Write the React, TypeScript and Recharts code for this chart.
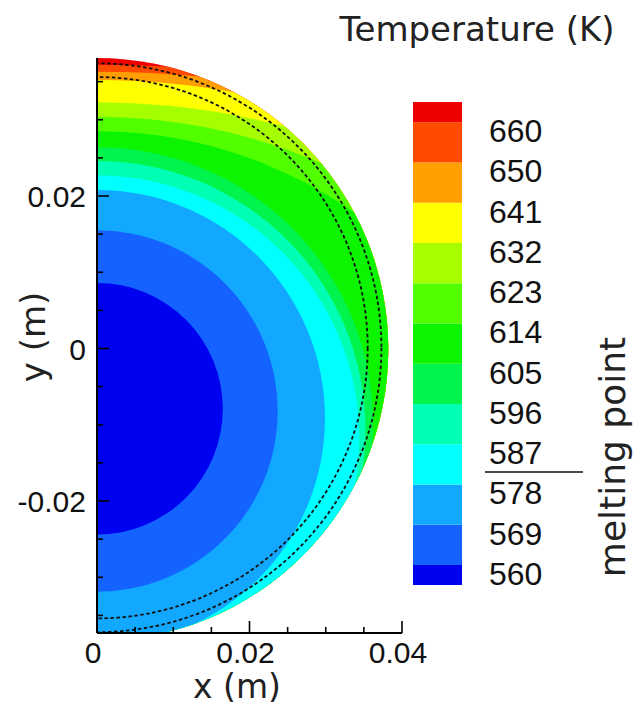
import React from 'react';
import { ComposedChart, BarChart, Bar, XAxis, YAxis, ReferenceArea } from 'recharts';

// ---- axis ticks ----
const xTicks = [0, 0.005, 0.01, 0.015, 0.02, 0.025, 0.03, 0.035, 0.04];
const xTickLabels = ['0', '', '', '', '0.02', '', '', '', '0.04'];
const yTicks = [-0.035, -0.03, -0.025, -0.02, -0.015, -0.01, -0.005, 0, 0.005, 0.01, 0.015, 0.02, 0.025, 0.03, 0.035];
const yTickLabels = ['', '', '', '-0.02', '', '', '', '0', '', '', '', '0.02', '', '', ''];
const xDomain = [0, 0.04];
const yDomain = [-0.03731, 0.0381];

// ---- contour levels (K), hot -> cold ----
const levels = [660, 650, 641, 632, 623, 614, 605, 596, 587, 578, 569, 560];
// band colours, hottest band (>660) first, coldest band (<560) last
const bandColors = [
  '#ee0000', '#ff4a00', '#ff9f00', '#ffff00', '#a6ff00', '#52ff00', '#0cf400',
  '#00f44c', '#00ffb4', '#00ffff', '#12a8ff', '#1462ff', '#0000f0',
];
// isotherm circles (centre on x = 0): centre y (m) and radius (m)
const isoCenterY = [-0.162, -0.1074, -0.067, -0.0646, -0.0435, -0.03, -0.0098, -0.0106, -0.0117, -0.0091, -0.0082, -0.0079];
const isoRadius = [0.1992, 0.1437, 0.1022, 0.0969, 0.0739, 0.0585, 0.0362, 0.0352, 0.0344, 0.0299, 0.0237, 0.0165];
// sphere wall
const wallCenterY = [-0.0001];
const wallRadius = [0.0382];
// dashed fronts
const frontCenterY = [0.0001, 0.0001];
const frontRadius = [0.0373, 0.0355];
// colour-bar spans (hot -> cold), in level steps
const colorbarSpans = [0.5, 1, 1, 1, 1, 1, 1, 1, 1, 1, 1, 1, 0.5];
const colorbarTicks = [0.5, 1.5, 2.5, 3.5, 4.5, 5.5, 6.5, 7.5, 8.5, 9.5, 10.5, 11.5];

const NUM_FONT = '"Liberation Sans", Arial, sans-serif';
const TITLE_FONT = '"DejaVu Sans", Verdana, sans-serif';

const colorbarRow: Record<string, number | string> = { name: 'T' };
colorbarSpans.forEach((s, i) => {
  colorbarRow['b' + i] = s;
});

const XTick = (p: any) => {
  const idx = xTicks.findIndex((t) => Math.abs(t - p.payload.value) < 1e-9);
  const label = idx >= 0 ? xTickLabels[idx] : '';
  const len = label ? 12 : 6;
  return (
    <g>
      <line x1={p.x} y1={p.y} x2={p.x} y2={p.y - len} stroke="#000" strokeWidth={1.6} />
      {label ? (
        <text x={p.x - 4} y={p.y + 30} textAnchor="middle" fontFamily={NUM_FONT} fontSize={30} fill="#111">
          {label}
        </text>
      ) : null}
    </g>
  );
};

const YTick = (p: any) => {
  const idx = yTicks.findIndex((t) => Math.abs(t - p.payload.value) < 1e-9);
  const label = idx >= 0 ? yTickLabels[idx] : '';
  const len = label ? 12 : 6;
  return (
    <g>
      <line x1={p.x} y1={p.y} x2={p.x + len} y2={p.y} stroke="#000" strokeWidth={1.6} />
      {label ? (
        <text x={p.x - 11} y={p.y + 11} textAnchor="end" fontFamily={NUM_FONT} fontSize={30} fill="#111">
          {label}
        </text>
      ) : null}
    </g>
  );
};

const CbTick = (p: any) => {
  const i = Math.round(p.payload.value - 0.5);
  const label = String(levels[levels.length - 1 - i]);
  return (
    <text x={p.x + 27} y={p.y + 20} textAnchor="start" fontFamily={NUM_FONT} fontSize={32} fill="#111">
      {label}
    </text>
  );
};

const sphereShape = (fill: string) => (p: any) => {
  const cx = p.x + p.width / 2;
  const cy = p.y + p.height / 2;
  return (
    <g clipPath={p.clipPath}>
      <defs>
        <clipPath id="sphere-clip">
          <ellipse cx={cx} cy={cy} rx={p.width / 2} ry={p.height / 2} />
        </clipPath>
      </defs>
      <ellipse cx={cx} cy={cy} rx={p.width / 2} ry={p.height / 2} fill={fill} />
    </g>
  );
};

const bandShape = (fill: string) => (p: any) => (
  <g clipPath={p.clipPath}>
    <ellipse
      cx={p.x + p.width / 2}
      cy={p.y + p.height / 2}
      rx={p.width / 2}
      ry={p.height / 2}
      fill={fill}
      clipPath="url(#sphere-clip)"
    />
  </g>
);

const frontShape = (p: any) => (
  <g clipPath={p.clipPath}>
    <ellipse
      cx={p.x + p.width / 2}
      cy={p.y + p.height / 2}
      rx={p.width / 2}
      ry={p.height / 2}
      fill="none"
      stroke="#111"
      strokeWidth={1.8}
      strokeDasharray="3.5 2.5"
    />
  </g>
);

export default function App() {
  return (
    <div style={{ position: 'absolute', left: 0, top: 0, width: 636, height: 706, background: '#fff', overflow: 'hidden' }}>
      <div style={{ position: 'absolute', left: 0, top: 0 }}>
        <ComposedChart width={636} height={706} margin={{ top: 58, right: 234, bottom: 0, left: 0 }}>
          <XAxis
            type="number"
            dataKey="x"
            domain={xDomain}
            ticks={xTicks}
            interval={0}
            allowDataOverflow
            height={73}
            tickSize={0}
            tickMargin={0}
            tickLine={false}
            axisLine={{ stroke: '#000', strokeWidth: 2 }}
            tick={(p: any) => <XTick {...p} />}
          />
          <YAxis
            type="number"
            dataKey="y"
            domain={yDomain}
            ticks={yTicks}
            interval={0}
            allowDataOverflow
            width={97}
            tickSize={0}
            tickMargin={0}
            tickLine={false}
            axisLine={{ stroke: '#000', strokeWidth: 2 }}
            tick={(p: any) => <YTick {...p} />}
          />
          {wallRadius.map((r, i) => (
            <ReferenceArea
              key={'wall' + i}
              x1={-r}
              x2={r}
              y1={wallCenterY[i] - r}
              y2={wallCenterY[i] + r}
              ifOverflow="hidden"
              shape={sphereShape(bandColors[0])}
            />
          ))}
          {isoRadius.map((r, i) => (
            <ReferenceArea
              key={'iso' + levels[i]}
              x1={-r}
              x2={r}
              y1={isoCenterY[i] - r}
              y2={isoCenterY[i] + r}
              ifOverflow="hidden"
              shape={bandShape(bandColors[i + 1])}
            />
          ))}
          {frontRadius.map((r, i) => (
            <ReferenceArea
              key={'front' + i}
              x1={-r}
              x2={r}
              y1={frontCenterY[i] - r}
              y2={frontCenterY[i] + r}
              ifOverflow="hidden"
              shape={frontShape}
            />
          ))}
        </ComposedChart>
      </div>
      <div style={{ position: 'absolute', left: 0, top: 0 }}>
        <BarChart
          width={636}
          height={706}
          data={[colorbarRow]}
          margin={{ top: 102, right: 0, bottom: 121, left: 413 }}
          barCategoryGap={0}
          barGap={0}
        >
          <XAxis dataKey="name" type="category" hide />
          <YAxis
            orientation="right"
            type="number"
            domain={[0, 12]}
            ticks={colorbarTicks}
            interval={0}
            width={174}
            tickSize={0}
            tickMargin={0}
            tickLine={false}
            axisLine={false}
            tick={(p: any) => <CbTick {...p} />}
          />
          {colorbarSpans
            .map((_, i) => colorbarSpans.length - 1 - i)
            .map((bi) => (
              <Bar key={'b' + bi} dataKey={'b' + bi} stackId="cb" fill={bandColors[bi]} isAnimationActive={false} />
            ))}
        </BarChart>
      </div>
      <svg width={636} height={706} style={{ position: 'absolute', left: 0, top: 0, pointerEvents: 'none' }}>
        <text x={477} y={41} textAnchor="middle" fontFamily={TITLE_FONT} fontSize={34} fill="#222">
          Temperature (K)
        </text>
        <text x={237} y={698} textAnchor="middle" fontFamily={TITLE_FONT} fontSize={33} fill="#222">
          x (m)
        </text>
        <text transform="translate(45,337) rotate(-90)" textAnchor="middle" fontFamily={TITLE_FONT} fontSize={34} fill="#222">
          y (m)
        </text>
        <text transform="translate(625,457) rotate(-90)" textAnchor="middle" fontFamily={TITLE_FONT} fontSize={36} fill="#222">
          melting point
        </text>
        <line x1={485} y1={472} x2={583} y2={472} stroke="#111" strokeWidth={1.6} />
      </svg>
    </div>
  );
}
